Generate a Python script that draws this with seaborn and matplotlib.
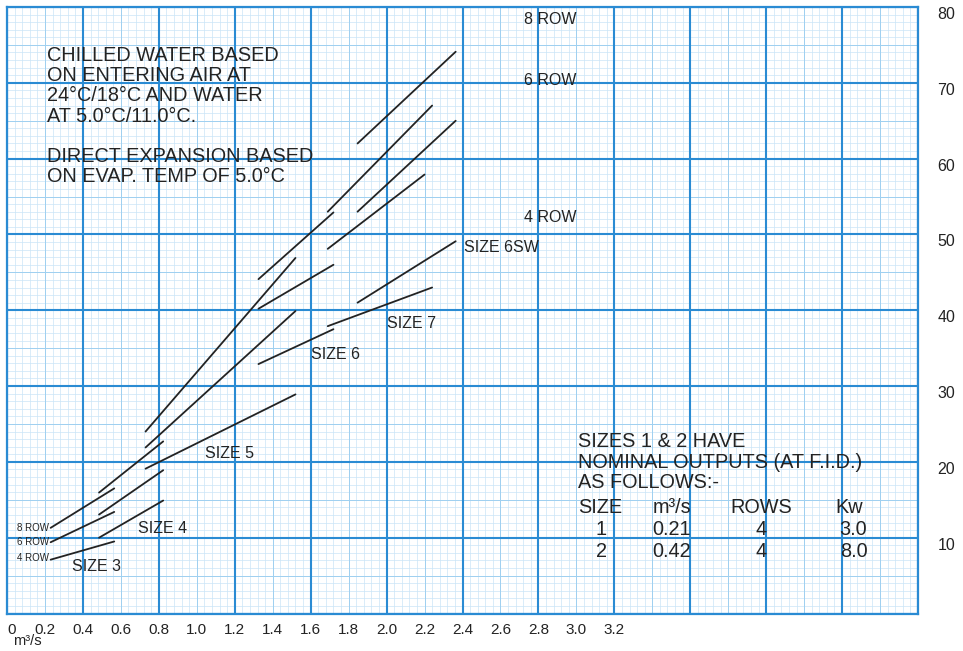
import numpy as np
import pandas as pd
import matplotlib
matplotlib.use("Agg")
import matplotlib.pyplot as plt
import seaborn as sns

coil_size = ["3", "3", "3", "4", "4", "4", "5", "5", "5",
             "6", "6", "6", "7", "7", "7", "6SW", "6SW", "6SW"]
coil_rows = [4, 6, 8] * 6
flow_start = [0.23, 0.23, 0.23, 0.485, 0.485, 0.485, 0.73, 0.73, 0.73,
              1.325, 1.325, 1.325, 1.69, 1.69, 1.69, 1.847, 1.847, 1.847]
flow_end = [0.565, 0.565, 0.565, 0.823, 0.823, 0.823, 1.52, 1.52, 1.52,
            1.72, 1.72, 1.72, 2.24, 2.20, 2.24, 2.364, 2.364, 2.364]
kw_start = [7.1, 9.4, 11.3, 10.0, 13.05, 15.95, 19.1, 21.9, 24.0,
            32.9, 40.2, 44.1, 37.9, 48.1, 53.0, 41.0, 53.0, 62.0]
kw_end = [9.5, 13.4, 16.5, 14.9, 18.9, 22.7, 28.9, 39.9, 46.9,
          37.5, 46.0, 52.9, 43.0, 57.9, 67.0, 49.1, 65.0, 74.1]

x_tick_vals = [0, 0.2, 0.4, 0.6, 0.8, 1.0, 1.2, 1.4, 1.6, 1.8, 2.0,
               2.2, 2.4, 2.6, 2.8, 3.0, 3.2]
x_tick_text = ["0", "0.2", "0.4", "0.6", "0.8", "1.0", "1.2", "1.4", "1.6",
               "1.8", "2.0", "2.2", "2.4", "2.6", "2.8", "3.0", "3.2"]
y_tick_vals = [10, 20, 30, 40, 50, 60, 70, 80]

# size labels next to the lines
size_labels = ["SIZE 3", "SIZE 4", "SIZE 5", "SIZE 6", "SIZE 7", "SIZE 6SW"]
size_label_x = [0.343, 0.691, 1.045, 1.604, 2.0, 2.406]
size_label_y = [6.2, 11.2, 21.1, 34.1, 38.2, 48.3]

row_labels = ["8 ROW", "6 ROW", "4 ROW"]
row_label_y_small = [11.3, 9.45, 7.3]
row_label_y_big = [78.3, 70.3, 52.25]

note_text = ("CHILLED WATER BASED\nON ENTERING AIR AT\n24°C/18°C AND WATER\n"
             "AT 5.0°C/11.0°C.\n\nDIRECT EXPANSION BASED\nON EVAP. TEMP OF 5.0°C")
small_sizes_text = "SIZES 1 & 2 HAVE\nNOMINAL OUTPUTS (AT F.I.D.)\nAS FOLLOWS:-"
table_head = ["SIZE", "m³/s", "ROWS", "Kw"]
table_size = ["1", "2"]
table_flow = ["0.21", "0.42"]
table_rows = ["4", "4"]
table_kw = ["3.0", "8.0"]

seg = []
for i in range(len(coil_size)):
    seg.append((i, coil_size[i], coil_rows[i], flow_start[i], kw_start[i]))
    seg.append((i, coil_size[i], coil_rows[i], flow_end[i], kw_end[i]))
df = pd.DataFrame(seg, columns=["seg", "size", "rows", "flow", "kw"])

sns.set_style("white")
plt.rcParams["font.family"] = ["Liberation Sans", "DejaVu Sans"]

ink = "#232323"
major_c = "#2a8bd3"
mid_c = "#9fd0f0"
minor_c = "#cae5f7"

fig = plt.figure(figsize=(9.63, 6.51), dpi=100)
ax = fig.add_axes([7 / 963, 37.5 / 651, 911 / 963, 606.5 / 651])
ax.set_xlim(0, 4.8)
ax.set_ylim(0, 80)

# graph paper
ax.vlines(np.arange(0, 4.801, 0.04), 0, 80, color=minor_c, lw=0.5, zorder=0)
ax.hlines(np.arange(0, 80.1, 1), 0, 4.8, color=minor_c, lw=0.5, zorder=0)
ax.vlines(np.arange(0, 4.801, 0.2), 0, 80, color=mid_c, lw=0.7, zorder=0)
ax.hlines(np.arange(0, 80.1, 5), 0, 4.8, color=mid_c, lw=0.7, zorder=0)
ax.vlines(np.arange(0, 4.801, 0.4), 0, 80, color=major_c, lw=1.5, zorder=1)
ax.hlines(np.arange(0, 80.1, 10), 0, 4.8, color=major_c, lw=1.5, zorder=1)

sns.lineplot(data=df, x="flow", y="kw", units="seg", estimator=None,
             color=ink, lw=1.3, legend=False, ax=ax, zorder=3)

for s in ax.spines.values():
    s.set_color(major_c)
    s.set_linewidth(1.6)

ax.set_xlabel("")
ax.set_ylabel("")
ax.set_xticks(x_tick_vals, x_tick_text)
ax.yaxis.tick_right()
ax.set_yticks(y_tick_vals, [str(v) for v in y_tick_vals])
ax.tick_params(axis="x", length=0, pad=7, labelsize=11, labelcolor=ink)
ax.tick_params(axis="y", length=0, pad=14, labelsize=11.5, labelcolor=ink)
ax.get_xticklabels()[0].set_ha("left")
for t in ax.get_yticklabels():
    t.set_va("top")
fig.text(13 / 963, 1 - 641 / 651, "m³/s", fontsize=10.5, color=ink, va="center")

for lab, x, y in zip(size_labels, size_label_x, size_label_y):
    ax.text(x, y, lab, fontsize=11.5, color=ink, va="center", zorder=4)
for lab, y in zip(row_labels, row_label_y_small):
    ax.text(0.055, y, lab, fontsize=7, color=ink, va="center", zorder=4)
for lab, y in zip(row_labels, row_label_y_big):
    ax.text(2.723, y, lab, fontsize=11.5, color=ink, va="center", zorder=4)

ax.text(0.211, 74.85, note_text, fontsize=14.3, color=ink, va="top",
        linespacing=1.08, zorder=4)
ax.text(3.008, 23.9, small_sizes_text, fontsize=14.3, color=ink, va="top",
        linespacing=1.08, zorder=4)

row_y = [13.97, 11.06, 8.15]
ax.text(3.008, row_y[0], table_head[0], fontsize=14.3, color=ink, va="center", zorder=4)
ax.text(3.504, row_y[0], table_head[1], fontsize=14.3, color=ink, va="center", ha="center", zorder=4)
ax.text(3.974, row_y[0], table_head[2], fontsize=14.3, color=ink, va="center", ha="center", zorder=4)
ax.text(4.438, row_y[0], table_head[3], fontsize=14.3, color=ink, va="center", ha="center", zorder=4)
for i in range(2):
    y = row_y[i + 1]
    ax.text(3.13, y, table_size[i], fontsize=14.3, color=ink, va="center", ha="center", zorder=4)
    ax.text(3.504, y, table_flow[i], fontsize=14.3, color=ink, va="center", ha="center", zorder=4)
    ax.text(3.974, y, table_rows[i], fontsize=14.3, color=ink, va="center", ha="center", zorder=4)
    ax.text(4.46, y, table_kw[i], fontsize=14.3, color=ink, va="center", ha="center", zorder=4)

fig.savefig("out.png", dpi=100)
